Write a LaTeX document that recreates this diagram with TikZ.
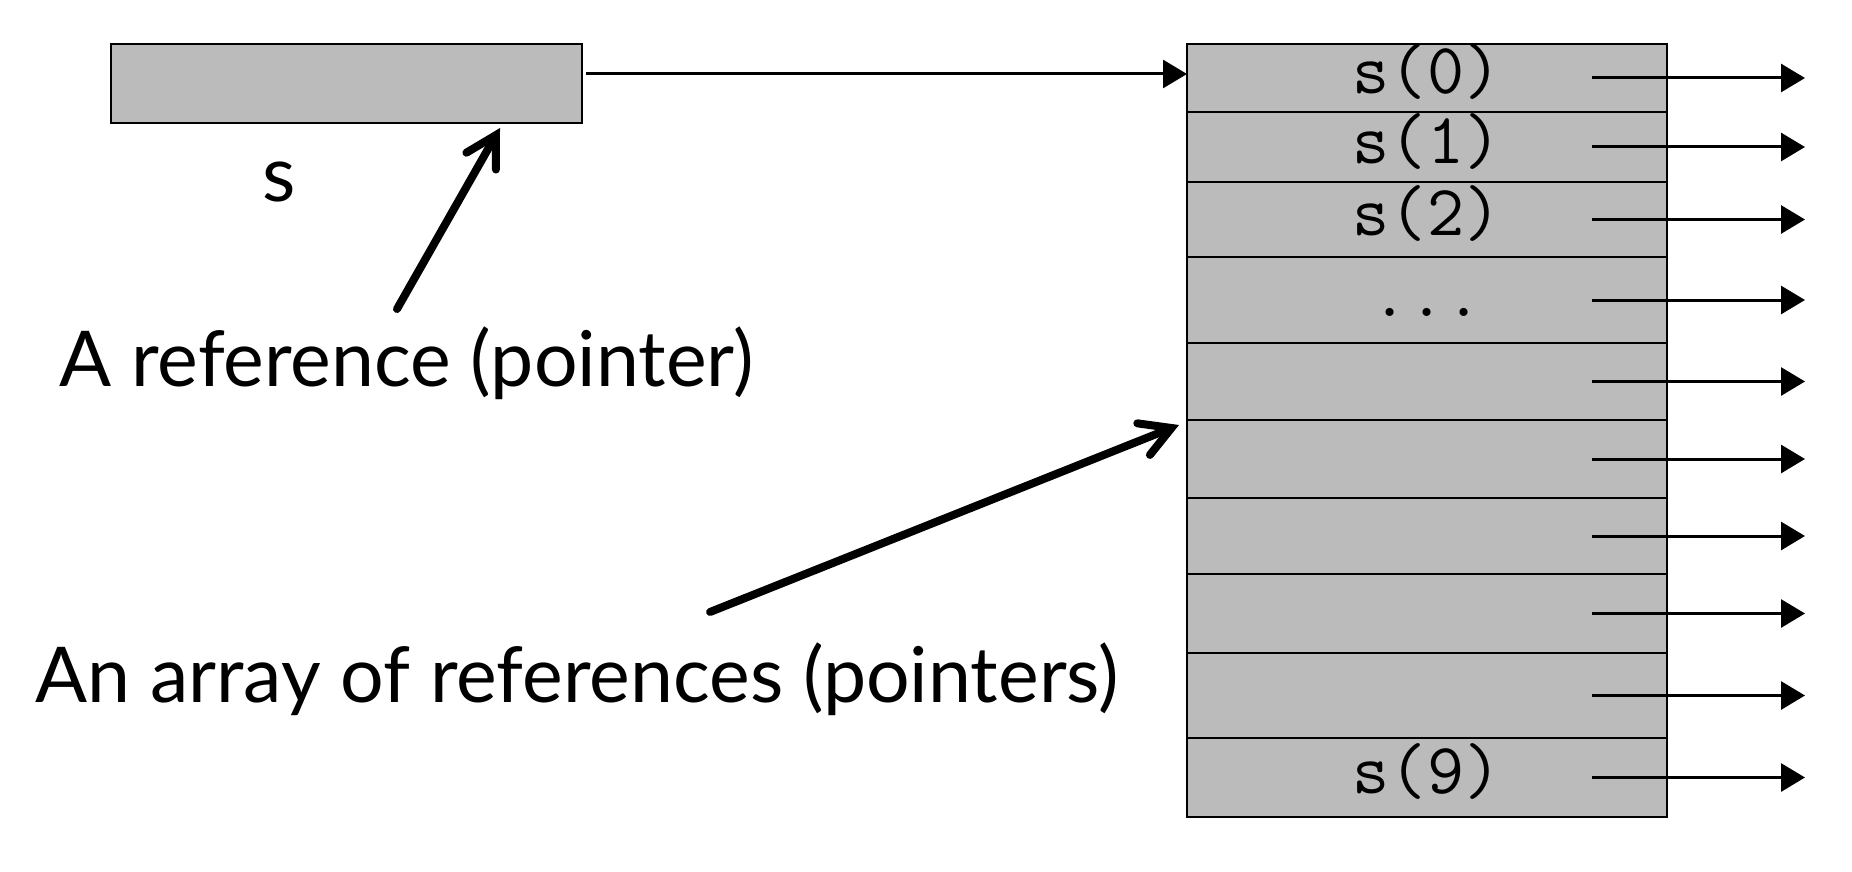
\documentclass[tikz,border=0pt]{standalone}
\usepackage{fontspec}
\setmainfont{Lato}
\newfontfamily\labelfont{Lato}
\usepackage{tikz}
\usetikzlibrary{positioning, arrows.meta}
\definecolor{cellgray}{HTML}{BBBBBB}
\tikzstyle{cell} = [rectangle, draw=black, line width=1pt, fill=cellgray, minimum width=240pt, inner sep=0pt, outer sep=0pt, text height=18pt, text depth=2pt, font=\ttfamily\fontsize{36}{36}\selectfont]
\tikzstyle{var} = [rectangle, draw=black, line width=1.4pt, fill=cellgray, minimum width=235.5pt, minimum height=39.5pt, inner sep=0pt, outer sep=0pt]
\tikzstyle{caption} = [font=\labelfont\fontsize{38.5}{38.5}\selectfont, inner sep=0pt]
\tikzstyle{link} = [line width=1.5pt, -{Triangle[length=12pt, width=14pt]}]
\tikzstyle{pointer} = [line width=4pt, line cap=round, -{Straight Barb[length=15pt, width=17pt, line cap=round]}]

\begin{document}
\begin{tikzpicture}[x=0.5pt, y=-0.5pt]
    \useasboundingbox (0,0) rectangle (1852,872);
    % the variable s
    \node (sbox) [var] at (346.5,83.5) {};
    \node (sname) [caption, anchor=base] at (279,201) {s};
    % the array
    \node (r0) [cell, minimum height=34pt, anchor=north west] at (1187,44) {s(0)};
    \node (r1) [cell, minimum height=35pt, below=0pt of r0] {s(1)};
    \node (r2) [cell, minimum height=37.5pt, below=0pt of r1] {s(2)};
    \node (r3) [cell, minimum height=43pt, below=0pt of r2] {...};
    \node (r4) [cell, minimum height=38.5pt, below=0pt of r3] {};
    \node (r5) [cell, minimum height=39pt, below=0pt of r4] {};
    \node (r6) [cell, minimum height=38pt, below=0pt of r5] {};
    \node (r7) [cell, minimum height=39.5pt, below=0pt of r6] {};
    \node (r8) [cell, minimum height=42.5pt, below=0pt of r7] {};
    \node (r9) [cell, minimum height=39.5pt, below=0pt of r8] {s(9)};
    \draw [line width=1.4pt] (r0.north west) rectangle (r9.south east);
    % captions
    \node (refl) [caption, anchor=base west] at (59,386) {A reference (pointer)};
    \node (arrl) [caption, anchor=base west] at (35,702) {An array of references (pointers)};
    \coordinate (c1) at (397,309);
    \coordinate (c2) at (710,612);
    % connectors
    \draw [link] ([xshift=2pt, yshift=4.75pt]sbox.east) -- ([yshift=2pt]r0.west);
    \foreach \i in {0,...,9} {
      \coordinate (o\i) at ([xshift=69pt]r\i.east);
      \draw [link] ([xshift=-37.5pt]r\i.east) -- (o\i);
    }
    \draw [pointer] (c1) -- ([xshift=-41pt, yshift=-2.5pt]sbox.south east);
    \draw [pointer] (c2) -- ([xshift=-4pt, yshift=-2.5pt]r5.north west);
\end{tikzpicture}
\end{document}
